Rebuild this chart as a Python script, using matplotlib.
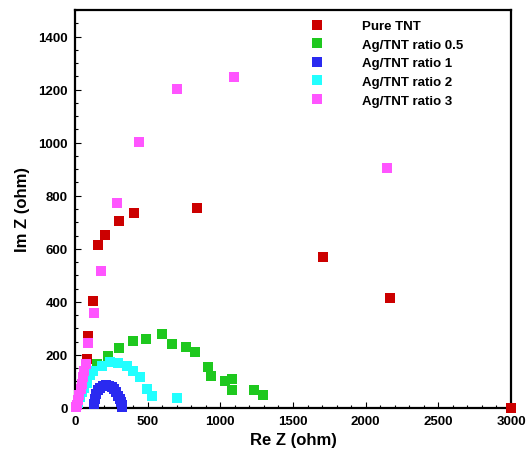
import matplotlib
matplotlib.use("Agg")
import matplotlib.pyplot as plt
from matplotlib.ticker import MultipleLocator

plt.rcParams['font.family'] = ['Liberation Sans', 'DejaVu Sans']
plt.rcParams['font.weight'] = 'bold'

# Nyquist data (Re Z, Im Z in ohm)
pure_re = [45, 60, 69, 82, 92, 126, 156, 209, 305, 408, 839, 1704, 2170, 3000]
pure_im = [60, 100, 134, 185, 270, 404, 614, 651, 704, 734, 753, 568, 415, 0]

ag05_re = [149, 229, 305, 397, 486, 596, 665, 764, 826, 917, 938, 1030, 1080, 1080, 1232, 1294]
ag05_im = [166, 195, 226, 254, 260, 279, 240, 231, 211, 155, 120, 103, 108, 66, 66, 50]

ag1_re = [132, 135, 142, 155, 172, 192, 212, 232, 252, 270, 285, 298, 308, 315, 320, 322]
ag1_im = [15, 35, 52, 66, 77, 84, 86, 84, 79, 70, 59, 47, 35, 22, 10, 2]

ag2_re = [10, 20, 35, 50, 65, 80, 103, 126, 184, 241, 298, 356, 401, 447, 493, 528, 700]
ag2_im = [5, 20, 40, 60, 75, 95, 125, 141, 160, 172, 170, 160, 141, 116, 72, 46, 38]

ag3_re = [10, 15, 22, 30, 38, 45, 55, 65, 73, 92, 131, 179, 291, 440, 702, 1094, 2150]
ag3_im = [3, 12, 30, 50, 70, 90, 115, 140, 166, 245, 358, 518, 774, 1001, 1202, 1249, 905]

series = [
    ("Pure TNT", pure_re, pure_im, "#cc0000"),
    ("Ag/TNT ratio 0.5", ag05_re, ag05_im, "#1ec81e"),
    ("Ag/TNT ratio 1", ag1_re, ag1_im, "#2a2af0"),
    ("Ag/TNT ratio 2", ag2_re, ag2_im, "#22ffff"),
    ("Ag/TNT ratio 3", ag3_re, ag3_im, "#ff55ff"),
]

fig = plt.figure(figsize=(5.32, 4.56), dpi=100)
ax = fig.add_axes([75/532, 47/456, 436/532, 398/456])

for label, xs, ys, color in series:
    ax.plot(xs, ys, 's', color=color, markersize=6.8, markeredgewidth=0,
            label=label, clip_on=False, zorder=3)

ax.set_xlim(0, 3000)
ax.set_ylim(0, 1500)
ax.xaxis.set_major_locator(MultipleLocator(500))
ax.xaxis.set_minor_locator(MultipleLocator(100))
ax.yaxis.set_major_locator(MultipleLocator(200))
ax.yaxis.set_minor_locator(MultipleLocator(50))
ax.tick_params(which='both', direction='in', top=False, right=False,
               labelsize=9.5, width=0.8)
ax.tick_params(which='major', length=4, pad=5)
ax.tick_params(which='minor', length=2)
for t in ax.get_xticklabels() + ax.get_yticklabels():
    t.set_fontweight('bold')
for s in ax.spines.values():
    s.set_linewidth(1.6)

ax.set_xlabel("Re Z (ohm)", fontsize=12, fontweight='bold', labelpad=4)
ax.set_ylabel("Im Z (ohm)", fontsize=12, fontweight='bold', labelpad=6)

leg = ax.legend(loc='upper left', bbox_to_anchor=(304/532, 1 - 21/456),
                bbox_transform=fig.transFigure, frameon=False,
                prop={'size': 9.5, 'weight': 'bold'}, handlelength=2,
                handletextpad=2.4, labelspacing=0.48, borderpad=0,
                borderaxespad=0, numpoints=1)

fig.savefig("out.png", dpi=100)
